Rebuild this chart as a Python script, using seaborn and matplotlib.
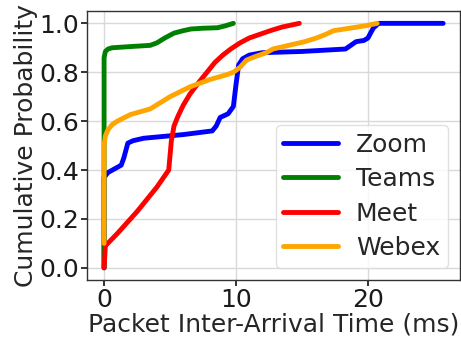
import matplotlib
matplotlib.use("Agg")
import matplotlib.pyplot as plt
import seaborn as sns
import pandas as pd

zoom_x = [0.0, 0.0, 0.3, 0.8, 1.3, 1.5, 1.8, 2.2, 3.0, 6.0, 8.2, 8.5, 8.8, 9.4, 9.8, 10.0, 10.2, 10.5, 11.0, 12.0, 15.0, 18.3, 18.7, 19.1, 19.7, 20.0, 20.4, 20.8, 25.7]
zoom_y = [0.0, 0.37, 0.39, 0.405, 0.42, 0.45, 0.51, 0.52, 0.53, 0.545, 0.56, 0.58, 0.615, 0.63, 0.66, 0.75, 0.83, 0.855, 0.87, 0.88, 0.885, 0.895, 0.91, 0.925, 0.93, 0.94, 0.98, 1.0, 1.0]

teams_x = [0.0, 0.0, 0.1, 0.3, 0.6, 2.0, 3.5, 4.0, 4.6, 5.3, 6.0, 6.6, 7.5, 8.6, 9.2, 9.8]
teams_y = [0.0, 0.86, 0.885, 0.895, 0.90, 0.905, 0.91, 0.92, 0.94, 0.96, 0.97, 0.977, 0.98, 0.982, 0.99, 1.0]

meet_x = [0.0, 0.1, 1.0, 2.5, 4.0, 4.9, 5.0, 5.1, 5.3, 5.6, 6.0, 6.5, 7.2, 7.8, 8.4, 9.0, 9.6, 10.3, 11.0, 11.8, 12.6, 13.5, 14.8]
meet_y = [0.0, 0.09, 0.14, 0.23, 0.33, 0.40, 0.46, 0.52, 0.58, 0.62, 0.665, 0.71, 0.76, 0.80, 0.84, 0.87, 0.895, 0.92, 0.94, 0.955, 0.97, 0.985, 1.0]

webex_x = [0.0, 0.0, 0.1, 0.3, 0.6, 1.0, 2.0, 3.5, 5.0, 6.5, 8.0, 9.3, 9.8, 10.3, 10.8, 11.5, 12.3, 12.8, 14.0, 15.2, 16.1, 16.8, 17.4, 18.6, 19.8, 20.7]
webex_y = [0.10, 0.50, 0.54, 0.565, 0.585, 0.60, 0.627, 0.65, 0.70, 0.74, 0.77, 0.79, 0.80, 0.82, 0.85, 0.865, 0.88, 0.895, 0.91, 0.925, 0.94, 0.955, 0.97, 0.98, 0.99, 1.0]

names = ["Zoom", "Teams", "Meet", "Webex"]
colors = ["blue", "green", "red", "orange"]

frames = []
for n, xs, ys in zip(names, [zoom_x, teams_x, meet_x, webex_x], [zoom_y, teams_y, meet_y, webex_y]):
    frames.append(pd.DataFrame({"x": xs, "y": ys, "app": n}))
df = pd.concat(frames, ignore_index=True)

sns.set_theme(style="whitegrid", rc={
    "axes.edgecolor": "0.2",
    "axes.linewidth": 1.0,
    "grid.color": "0.85",
    "grid.linewidth": 1.0,
    "xtick.bottom": True,
    "ytick.left": True,
    "xtick.color": "0.1",
    "ytick.color": "0.1",
    "xtick.major.size": 4,
    "ytick.major.size": 4,
})
plt.rcParams["font.family"] = ["DejaVu Sans"]
fs = 18

fig = plt.figure(figsize=(4.61, 3.37), dpi=100)
ax = fig.add_axes([0.189, 0.169, 0.809, 0.798])
sns.lineplot(data=df, x="x", y="y", hue="app", hue_order=names, palette=colors,
             sort=False, estimator=None, units="app", linewidth=3.5, ax=ax)
ax.set_xlim(-1.285, 26.985)
ax.set_ylim(-0.05, 1.05)
ax.set_xticks([0, 10, 20])
ax.set_yticks([0.0, 0.2, 0.4, 0.6, 0.8, 1.0])
ax.set_yticklabels(["0.0", "0.2", "0.4", "0.6", "0.8", "1.0"])
ax.tick_params(labelsize=fs, pad=2)
ax.set_xlabel("Packet Inter-Arrival Time (ms)", fontsize=fs, labelpad=0)
ax.set_ylabel("Cumulative Probability", fontsize=fs, labelpad=1)
leg = ax.legend(loc="lower right", fontsize=fs, frameon=True, handlelength=2.2,
                borderaxespad=0.5, labelspacing=0.42, handletextpad=0.7, borderpad=0.3)
leg.get_frame().set_edgecolor("0.85")
for line in leg.get_lines():
    line.set_linewidth(3.5)
fig.savefig("out.png", dpi=100)
